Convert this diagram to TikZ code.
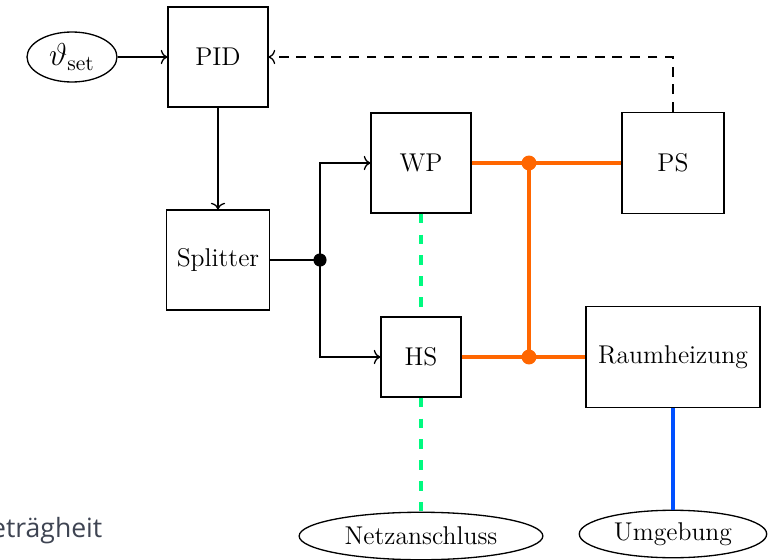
\documentclass[tikz,border=0pt]{standalone}
\usepackage{fontspec}
\newfontfamily\slidefont{Open Sans}
\usetikzlibrary{shapes.geometric, arrows.meta, positioning}
\definecolor{heatorange}{RGB}{255, 102, 0}
\definecolor{gridgreen}{RGB}{0, 250, 128}
\definecolor{ambblue}{RGB}{0, 80, 255}
\definecolor{slidegray}{RGB}{62, 68, 82}
\tikzstyle{block} = [draw, rectangle, fill=white, font=\fontsize{11.7}{14}\selectfont,
                     minimum width=1.6cm, minimum height=1.6cm, align=center]
\tikzstyle{terminal} = [draw, ellipse, fill=white, font=\fontsize{11.7}{14}\selectfont,
                        inner sep=1pt, minimum height=0.76cm]
\tikzstyle{signal} = [-{To[length=3pt, width=6.5pt]}]
\tikzstyle{heat} = [draw=heatorange, line width=1.9pt]
\tikzstyle{grid} = [draw=gridgreen, line width=1.9pt, dash pattern=on 4.3pt off 5.2pt]
\tikzstyle{ambient} = [draw=ambblue, line width=1.9pt]

\begin{document}
\begin{tikzpicture}[x=0.016cm, y=-0.016cm, line width=0.6pt]
                    \useasboundingbox (0, 0) rectangle (780, 560);
                    % Regelung
                    \node[terminal, minimum width=1.44cm, minimum height=0.8cm,
                          font=\fontsize{14}{16}\selectfont] (set) at (72, 57) {$\vartheta_{\mathrm{set}}$};
                    \node[block] (pid) at (218, 57) {PID};
                    \node[block, minimum width=1.65cm] (split) at (218, 260) {Splitter};
                    \coordinate (branch) at (320, 260);
                    % Erzeuger und Speicher
                    \node[block] (wp) at (421, 163) {WP};
                    \node[block, minimum width=1.28cm, minimum height=1.28cm] (hs) at (421, 357) {HS};
                    \node[block, minimum width=1.63cm, minimum height=1.62cm] (ps) at (673, 163) {PS};
                    \node[block, minimum width=2.78cm, minimum height=1.62cm] (rh) at (673, 357) {Raumheizung};
                    \node[terminal, minimum width=3.9cm] (netz) at (421, 536) {Netzanschluss};
                    \node[terminal, minimum width=3.0cm] (umg) at (673, 534) {Umgebung};
                    \coordinate (top) at (529, 163);
                    \coordinate (bot) at (529, 357);
                    % Folienrest
                    \node[anchor=base east, inner sep=0pt, text=slidegray,
                          font=\slidefont\fontsize{12.1}{14}\selectfont] (rest) at (103, 537) {eträgheit};
                    % Signale
                    \draw[signal] (set) -- (pid);
                    \draw[signal] (pid) -- (split);
                    \draw (split) -- (branch);
                    \draw[signal] (branch) |- (wp);
                    \draw[signal] (branch) |- (hs);
                    \fill (branch) circle (3pt);
                    \draw[signal, dash pattern=on 4.5pt off 3.5pt] (ps.north) |- (pid.east);
                    % Waerme
                    \draw[heat] (wp) -- (ps);
                    \draw[heat] (hs) -- (rh);
                    \draw[heat] (top) -- (bot);
                    \fill[heatorange] (top) circle (3.4pt) (bot) circle (3.4pt);
                    \draw[grid] (wp) -- (hs);
                    \draw[grid] (hs) -- (netz);
                    \draw[ambient] (rh) -- (umg);
                \end{tikzpicture}
\end{document}
